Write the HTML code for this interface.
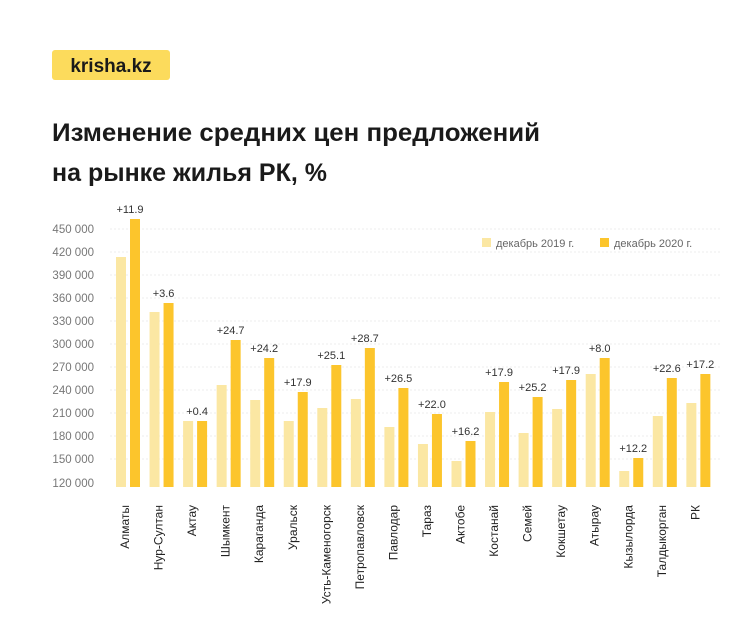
<!DOCTYPE html><html><head><meta charset="utf-8"><style>body{margin:0;background:#fff}svg{display:block;font-family:"Liberation Sans",sans-serif}</style></head><body>
<svg width="740" height="631" viewBox="0 0 740 631">
<rect x="52" y="50" width="118" height="30" rx="3" fill="#fcdb5c"/>
<text x="111" y="72" text-anchor="middle" font-size="19" font-weight="bold" fill="#1a1a1a">krisha.kz</text>
<text x="52" y="141" font-size="25" font-weight="bold" fill="#1a1a1a" textLength="488" lengthAdjust="spacingAndGlyphs">Изменение средних цен предложений</text>
<text x="52" y="181" font-size="25" font-weight="bold" fill="#1a1a1a">на рынке жилья РК, %</text>
<g font-size="11.5" fill="#777" text-anchor="end">
<text x="94" y="233">450 000</text><text x="94" y="256">420 000</text><text x="94" y="279">390 000</text><text x="94" y="302">360 000</text><text x="94" y="325">330 000</text><text x="94" y="348">300 000</text><text x="94" y="371">270 000</text><text x="94" y="394">240 000</text><text x="94" y="417">210 000</text><text x="94" y="440">180 000</text><text x="94" y="463">150 000</text><text x="94" y="487">120 000</text>
</g>
<g stroke="#eee" stroke-dasharray="2,2"><line x1="110" x2="720" y1="229" y2="229"/><line x1="110" x2="720" y1="252" y2="252"/><line x1="110" x2="720" y1="275" y2="275"/><line x1="110" x2="720" y1="298" y2="298"/><line x1="110" x2="720" y1="321" y2="321"/><line x1="110" x2="720" y1="344" y2="344"/><line x1="110" x2="720" y1="367" y2="367"/><line x1="110" x2="720" y1="390" y2="390"/><line x1="110" x2="720" y1="413" y2="413"/><line x1="110" x2="720" y1="436" y2="436"/><line x1="110" x2="720" y1="459" y2="459"/></g>
<rect x="482" y="238" width="9" height="9" fill="#fbe7a3"/><text x="496" y="247" font-size="11" fill="#666">декабрь 2019 г.</text>
<rect x="600" y="238" width="9" height="9" fill="#fcc52c"/><text x="614" y="247" font-size="11" fill="#666">декабрь 2020 г.</text>
<g id="bars"></g>
</svg>
<script>
var d=[["Алматы",257,219,"+11.9"],["Нур-Султан",312,303,"+3.6"],["Актау",421,421,"+0.4"],["Шымкент",385,340,"+24.7"],["Караганда",400,358,"+24.2"],["Уральск",421,392,"+17.9"],["Усть-Каменогорск",408,365,"+25.1"],["Петропавловск",399,348,"+28.7"],["Павлодар",427,388,"+26.5"],["Тараз",444,414,"+22.0"],["Актобе",461,441,"+16.2"],["Костанай",412,382,"+17.9"],["Семей",433,397,"+25.2"],["Кокшетау",409,380,"+17.9"],["Атырау",374,358,"+8.0"],["Кызылорда",471,458,"+12.2"],["Талдыкорган",416,378,"+22.6"],["РК",403,374,"+17.2"]];
var s="",B=487;
d.forEach(function(r,i){var c=128+i*33.55;
s+='<rect x="'+(c-12)+'" y="'+r[1]+'" width="10" height="'+(B-r[1])+'" fill="#fbe7a3"/>';
s+='<rect x="'+(c+2)+'" y="'+r[2]+'" width="10" height="'+(B-r[2])+'" fill="#fcc52c"/>';
s+='<text x="'+(c+2)+'" y="'+(r[2]-6)+'" font-size="11" text-anchor="middle" fill="#333">'+r[3]+'</text>';
s+='<text transform="translate('+(c+1)+',505) rotate(-90)" font-size="12" text-anchor="end" fill="#222">'+r[0]+'</text>';});
document.getElementById("bars").innerHTML=s;
</script>
</body></html>
